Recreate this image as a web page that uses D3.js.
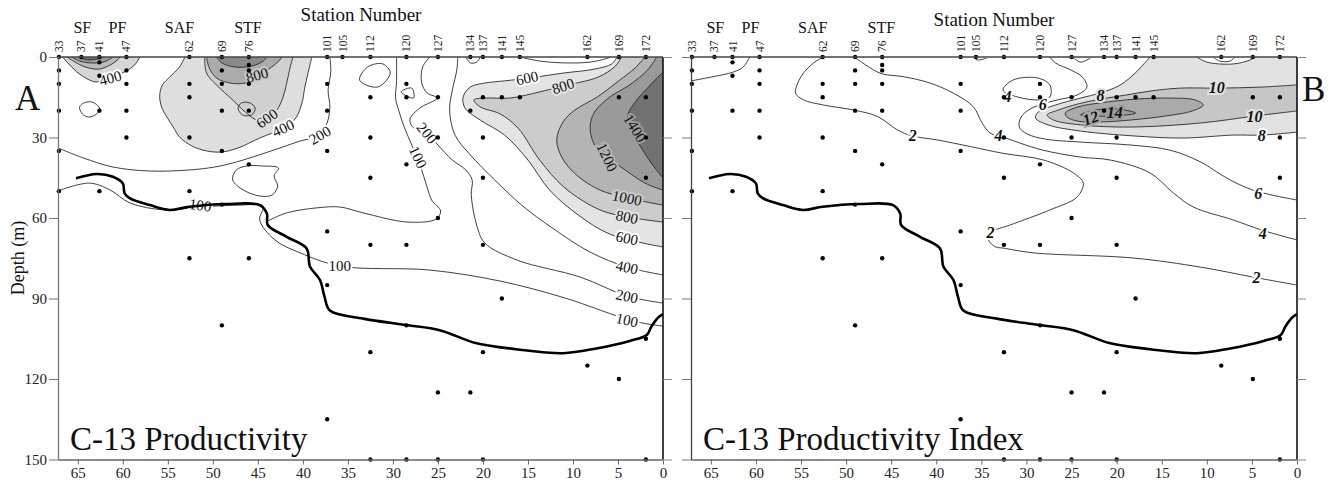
<!DOCTYPE html>
<html>
<head>
<meta charset="utf-8">
<script src="https://cdn.jsdelivr.net/npm/d3@7"></script>
<style>
  body { margin: 0; background: #fff; }
  text { font-family: "Liberation Serif", "Times New Roman", serif; }
</style>
</head>
<body>
<svg id="chart" width="1331" height="489"></svg>
<script>
// ---- data (station axis value, depth in m) ----
const stations = [33, 37, 41, 47, 62, 69, 76, 101, 105, 112, 120, 127, 134, 137, 141, 145, 162, 169, 172];
const stationPos = [67.1, 64.6, 62.6, 59.6, 52.6, 49.0, 46.0, 37.3, 35.6, 32.5, 28.5, 25.0, 21.4, 20.0, 17.9, 15.9, 8.4, 4.9, 1.9];
const fronts = ['SF', 'PF', 'SAF', 'STF'];
const frontPos = [64.5, 60.6, 53.7, 46.1];
const xTicks = [65, 60, 55, 50, 45, 40, 35, 30, 25, 20, 15, 10, 5, 0];
const depthTicks = [0, 30, 60, 90, 120, 150];

// sample depths per station (same for both panels)
const sampleDepths = [
  [0, 5, 10, 20, 35, 50],
  [0],
  [0, 2, 7, 20, 50],
  [0, 5, 10, 20, 30],
  [0, 10, 15, 30, 50, 75],
  [0, 5, 10, 20, 35, 55, 100],
  [0, 3, 5, 10, 20, 40, 75],
  [0, 10, 20, 35, 65, 85, 135],
  [0],
  [0, 15, 30, 45, 70, 110, 150],
  [0, 10, 15, 40, 70, 100, 150],
  [0, 15, 30, 60, 125, 150],
  [0, 20, 125],
  [0, 15, 30, 45, 70, 110, 150],
  [0, 15, 90],
  [0, 15],
  [0, 115],
  [0, 15, 120],
  [0, 15, 30, 45, 105, 150]
];

// thick line (same in both panels)
const thickLine = [[65.2, 45.2], [62.9, 43.6], [61.1, 44.6], [60.0, 47.1], [59.8, 50.8], [59.2, 52.7], [57.0, 55.2],
  [54.8, 57.0], [52.6, 55.8], [48.5, 54.8], [44.8, 55.2], [44.0, 58.3], [43.9, 62.6], [41.8, 67.0], [39.6, 71.3],
  [39.2, 78.2], [38.1, 83.1], [37.6, 89.3], [37.0, 94.5], [33.3, 97.5], [28.5, 99.9], [24.8, 101.8], [20.7, 106.7],
  [16.3, 108.9], [11.1, 110.4], [7.4, 108.6], [3.7, 105.8], [1.8, 103.6], [1.3, 100.5], [0.5, 97.0], [0, 95.8]];

// ---- panel A contours ----
const aSF400 = [[66.7, 0], [66.1, 2.2], [65.1, 5.6], [63.7, 8.6], [62.9, 9.3], [61.4, 7.8], [60.3, 6.3], [59.6, 5.2], [58.7, 3.0], [58.1, 0]];
const aSF600 = [[66.2, 0], [65.3, 1.9], [64.2, 3.7], [62.6, 4.5], [61.2, 2.6], [60.6, 1.1], [60.3, 0]];
const aSF800 = [[65.7, 0], [64.8, 1.5], [63.7, 2.2], [62.2, 1.9], [61.4, 0.7], [61.1, 0]];
const aSF1000 = [[65.0, 0], [63.9, 1.1], [62.8, 0.7], [62.1, 0]];
const aLoop41 = [[64.8, 18.6], [64.3, 17.1], [63.4, 16.8], [62.6, 19.0], [62.8, 20.9], [63.8, 22.4], [64.5, 21.2]];
const aSTF400 = [[53.1, 0], [53.7, 3.7], [54.8, 7.5], [55.6, 10.4], [55.9, 14.2], [55.7, 18.6], [55.1, 22.4], [54.4, 26.1],
  [53.7, 29.8], [52.3, 33.2], [50.7, 35.0], [49.0, 35.4], [47.2, 33.9], [44.8, 30.2], [42.2, 26.5], [40.8, 22.8],
  [40.1, 17.1], [39.8, 11.6], [39.4, 5.6], [39.0, 0]];
const aSTF600 = [[50.9, 0], [50.7, 6.0], [49.6, 10.4], [47.8, 16.0], [46.4, 20.5], [45.1, 23.5], [44.0, 22.8], [42.9, 19.8],
  [42.2, 14.9], [41.8, 9.7], [41.4, 3.7], [41.1, 0]];
const aSTF800 = [[50.7, 0], [50.4, 4.1], [49.6, 7.8], [48.1, 9.7], [46.4, 9.7], [45.1, 7.5], [43.9, 4.8], [42.8, 1.9], [42.3, 0]];
const aSTF1000 = [[49.6, 0], [49.0, 2.2], [47.6, 3.7], [45.7, 3.4], [44.4, 1.5], [44.0, 0]];
const aLoop76 = [[47.2, 19.0], [46.8, 17.1], [45.9, 17.1], [45.3, 19.0], [45.7, 21.6], [46.7, 21.6]];
const a200L = [[67.2, 33.9], [64.4, 37.6], [61.1, 41.0], [57.0, 42.5], [52.6, 42.1], [49.8, 41.0], [47.8, 39.5], [45.6, 37.3],
  [42.2, 33.5], [40.3, 31.3], [38.3, 29.4], [37.4, 25.3], [37.0, 19.0], [37.2, 12.3], [36.9, 5.6], [37.0, 0]];
const a200Loop = [[47.4, 42.1], [47.8, 45.8], [46.6, 49.6], [44.8, 51.8], [43.4, 51.4], [42.8, 48.1], [43.2, 44.3], [42.7, 41.4], [44.6, 40.6], [46.2, 40.6]];
const a100low = [[67.2, 49.9], [63.7, 47.0], [61.4, 49.6], [59.2, 54.4], [55.3, 57.0], [51.4, 55.9], [47.0, 55.2], [44.4, 55.5],
  [44.8, 60.7], [43.1, 68.2], [40.3, 73.0], [35.9, 77.9], [25.9, 79.4], [18.1, 83.5], [10.9, 89.8], [3.3, 98.4], [0, 100.3]];
const a100mid = [[43.9, 61.1], [41.8, 58.1], [38.4, 56.2], [35.9, 55.9], [33.3, 58.1], [28.4, 61.5], [25.2, 60.4], [24.7, 57.4],
  [25.7, 53.3], [26.2, 48.5], [27.0, 40.2], [27.9, 32.8], [28.7, 26.5], [29.3, 20.5], [29.7, 15.3], [29.6, 9.3], [29.6, 0]];
const aPent = [[33.7, 8.6], [32.8, 3.7], [31.1, 2.6], [30.3, 6.0], [31.7, 11.2]];
const aTri = [[29.1, 13.0], [27.9, 11.6], [27.7, 15.3]];
const aBump134 = [[21.9, 0], [21.4, 2.2], [20.7, 1.9], [20.3, 0]];
const a200R = [[25.9, 0], [26.7, 3.7], [26.8, 9.7], [26.2, 13.4], [25.1, 15.3], [27.0, 19.0], [28.1, 23.1], [27.8, 26.1],
  [26.2, 28.3], [25.0, 32.8], [23.4, 38.4], [21.9, 42.1], [21.2, 45.8], [21.3, 51.4], [20.7, 62.6], [19.8, 69.3],
  [16.2, 75.7], [9.2, 82.0], [4.0, 89.1], [0, 91.7]];
const a400 = [[22.8, 0], [22.9, 4.8], [23.4, 12.3], [23.7, 19.8], [23.1, 29.1], [21.4, 36.5], [18.7, 45.8], [15.7, 55.2],
  [12.3, 63.7], [8.1, 72.7], [4.0, 78.3], [0, 81.2]];
const aTop = [[15.9, 0], [13.7, 1.5], [11.1, 2.2], [8.1, 1.9], [6.4, 0.7], [5.8, 0]];
const a600 = [[5.1, 0], [5.7, 2.6], [7.6, 4.5], [11.1, 6.0], [14.8, 7.8], [17.6, 8.9], [19.8, 9.7], [21.4, 11.2], [22.2, 14.9],
  [22.0, 19.0], [20.3, 23.5], [17.6, 29.1], [15.0, 38.4], [12.6, 49.6], [9.4, 58.9], [5.9, 66.0], [0, 70.8]];
const a800 = [[4.6, 0], [5.3, 3.4], [7.2, 7.5], [11.1, 10.8], [13.7, 13.0], [17.0, 15.3], [19.8, 15.3], [21.0, 16.0], [20.3, 18.6],
  [18.1, 21.2], [16.1, 26.5], [13.7, 38.4], [10.9, 48.8], [7.0, 57.0], [4.0, 59.6], [0, 61.5]];
const a1000 = [[2.0, 0], [3.1, 4.1], [4.8, 8.6], [7.3, 14.9], [9.8, 19.8], [11.1, 24.2], [11.8, 30.9], [11.2, 37.6], [9.6, 44.0],
  [7.0, 49.6], [4.0, 52.5], [0, 55.2]];
const a1200 = [[0.7, 0], [1.7, 4.8], [3.7, 10.4], [5.9, 14.9], [7.6, 20.5], [8.1, 26.1], [7.6, 32.8], [6.2, 37.3], [4.2, 42.1],
  [2.0, 47.0], [0, 49.6]];
const a1400 = [[0, 5.6], [1.4, 10.4], [2.9, 16.0], [3.9, 21.6], [3.7, 26.5], [2.6, 32.8], [1.4, 39.1], [0, 45.1]];

// ---- panel B contours ----
const bTop2 = [[60.7, 0], [61.4, 3.7], [62.5, 5.6], [65.0, 7.5], [67.2, 8.9]];
const b2 = [[52.5, 0], [53.6, 2.2], [55.0, 7.3], [55.6, 13.5], [54.7, 16.0], [52.5, 17.9], [49.1, 19.8], [46.5, 22.2], [44.3, 27.2],
  [42.7, 29.4], [39.9, 30.9], [36.2, 33.4], [32.6, 35.9], [28.1, 38.4], [24.8, 43.2], [23.7, 47.0], [24.4, 52.2], [27.4, 57.0],
  [31.8, 62.6], [33.8, 65.2], [34.2, 68.2], [33.4, 70.8], [32.6, 71.2], [29.2, 73.0], [18.2, 74.9], [10.7, 78.3], [4.9, 82.0], [0, 85.0]];
const b4 = [[49.1, 0], [47.3, 4.1], [46.0, 6.3], [43.7, 7.3], [40.7, 9.7], [38.1, 13.5], [35.9, 18.5], [34.9, 24.7], [34.0, 28.4],
  [32.6, 29.8], [30.7, 32.1], [28.2, 34.7], [24.0, 37.3], [20.7, 38.4], [16.3, 43.2], [13.7, 50.7], [11.5, 55.9], [7.1, 60.7], [3.8, 64.6], [0, 68.2]];
const b4loop = [[32.6, 12.3], [31.5, 8.6], [28.8, 7.8], [27.4, 10.4], [27.4, 14.9], [28.5, 16.0], [31.0, 14.9]];
const b6 = [[27.4, 0], [26.8, 2.2], [25.1, 4.8], [23.8, 7.5], [23.3, 11.2], [24.4, 14.2], [26.6, 16.0], [28.2, 17.5], [29.6, 19.4],
  [30.6, 22.4], [30.8, 26.1], [29.9, 28.7], [27.9, 30.6], [24.0, 31.7], [18.5, 32.8], [14.1, 34.7], [10.7, 39.1], [7.8, 45.1],
  [4.9, 49.6], [0, 53.3]];
const b8 = [[16.3, 0], [17.2, 3.4], [18.3, 7.1], [19.8, 10.8], [21.8, 13.4], [24.0, 15.3], [26.8, 17.9], [28.7, 20.5], [29.0, 22.7],
  [27.6, 25.3], [24.0, 27.6], [18.2, 29.4], [12.6, 30.2], [7.1, 29.1], [3.9, 29.1], [0, 28.0]];
const b10 = [[0, 10.4], [3.9, 11.2], [8.9, 11.6], [13.0, 11.6], [16.3, 12.7], [19.0, 14.2], [21.8, 15.7], [24.3, 17.5], [26.5, 19.8],
  [27.7, 21.6], [27.0, 23.5], [24.0, 25.3], [18.5, 26.1], [10.7, 24.6], [4.7, 22.0], [0, 20.1]];
const b12 = [[25.7, 20.9], [24.3, 18.6], [21.8, 17.1], [17.9, 15.7], [14.1, 15.3], [11.3, 16.0], [10.4, 17.9], [11.6, 20.1],
  [14.6, 22.0], [18.5, 23.5], [21.8, 24.2], [24.3, 23.9], [25.5, 22.4]];
const b14 = [[24.0, 21.6], [22.4, 19.8], [19.9, 19.4], [17.9, 20.9], [20.5, 22.0]];
const bHole = [[11.1, 0], [10.0, 1.9], [7.1, 2.6], [5.2, 1.1], [4.7, 0]];
const bHoleIn = [[9.3, 0], [8.6, 1.5], [7.4, 1.5], [6.9, 0]];
const bBump105 = [[35.8, 0], [35.5, 1.1], [34.4, 0.4]];
const bBump127 = [[24.9, 0], [24.0, 1.9], [22.9, 0.4]];

// labels [v, depth, text, angle, halo]
const labelsA = [[61.4, 7.8, '400', -15, '#fff'], [45.1, 6.7, '800', -15, '#c8c8c8'], [44.0, 22.8, '600', -35, '#dedede'],
  [42.2, 26.5, '400', -25, '#fff'], [38.1, 29.1, '200', -30, '#fff'], [26.2, 28.3, '200', 50, '#fff'],
  [27.2, 37.3, '100', 65, '#fff'], [51.4, 55.2, '100', 8, '#fff'], [35.9, 77.9, '100', 0, '#fff'],
  [15.1, 7.8, '600', -12, '#fff'], [11.1, 10.8, '800', -18, '#e4e4e4'], [3.1, 26.5, '1400', 58, '#9c9c9c'],
  [6.2, 37.3, '1200', 65, '#b4b4b4'], [4.0, 52.5, '1000', 12, '#cccccc'], [4.0, 59.6, '800', 12, '#e4e4e4'],
  [4.0, 67.5, '600', 12, '#fff'], [4.0, 78.3, '400', 12, '#fff'], [4.0, 89.1, '200', 12, '#fff'], [4.0, 98.0, '100', 12, '#fff']];
const labelsB = [[42.6, 29.4, '2', 0, '#fff'], [33.1, 29.1, '4', 0, '#fff'], [32.1, 14.5, '4', 0, '#fff'], [28.2, 17.5, '6', 0, '#fff'],
  [21.8, 14.2, '8', 0, '#e2e2e2'], [22.9, 22.7, '12', -20, '#aaaaaa'], [20.2, 20.5, '14', 0, '#9c9c9c'], [8.9, 11.2, '10', 0, '#e2e2e2'],
  [4.7, 22.0, '10', 0, '#e2e2e2'], [3.9, 29.1, '8', 0, '#fff'], [4.3, 50.7, '6', 0, '#fff'], [3.8, 65.6, '4', 0, '#fff'],
  [4.5, 82.0, '2', 0, '#fff'], [34.0, 65.2, '2', 0, '#fff']];

// ---- build ----
const svg = d3.select('#chart');
const y = d3.scaleLinear().domain([0, 150]).range([57, 459.5]);

const panels = [
  {
    x0: 58, x1: 663, letter: 'A', letterX: 15, letterY: 110, title: 'C-13 Productivity', snY: 21, snX: 361, yLabels: true,
    fills: [
      [aSF400, [], '#d6d6d6'], [aSF600, [], '#bababa'], [aSF800, [], '#9c9c9c'], [aSF1000, [], '#707070'],
      [aSTF400, [], '#dedede'], [aSTF600, [], '#d0d0d0'], [aSTF800, [], '#ababab'], [aSTF1000, [], '#8a8a8a'],
      [a600, [[0, 0]], '#e4e4e4'], [a800, [[0, 0]], '#cccccc'], [a1000, [[0, 0]], '#b4b4b4'], [a1200, [[0, 0]], '#9a9a9a'],
      [a1400, [], '#727272'], [aTop, [], '#ffffff']
    ],
    lines: [aSF400, aSF600, aSF800, aSF1000, aSTF400, aSTF600, aSTF800, aSTF1000, a200L, a100low, a100mid, a200R, a400,
      aTop, aBump134, a600, a800, a1000, a1200, a1400],
    loops: [aLoop41, aLoop76, a200Loop, aPent, aTri],
    labels: labelsA
  },
  {
    x0: 691, x1: 1297, letter: 'B', letterX: 1302, letterY: 101, title: 'C-13 Productivity Index', snY: 26, snX: 994, yLabels: false,
    fills: [[b8, [[0, 0]], '#e2e2e2'], [bHole, [], '#ffffff'], [b10, [], '#c6c6c6']],
    fillLoops: [[b12, '#aaaaaa'], [b14, '#9c9c9c']],
    lines: [bTop2, b2, b4, b6, b8, b10, bHole, bHoleIn, bBump105, bBump127],
    loops: [b4loop, b12, b14],
    labels: labelsB,
    bold: true
  }
];

panels.forEach((p) => {
  const x = d3.scaleLinear().domain([67.2, 0]).range([p.x0, p.x1]);
  const g = svg.append('g');
  const open = d3.line().x((d) => x(d[0])).y((d) => y(d[1])).curve(d3.curveCatmullRom.alpha(0.5));
  const closed = d3.line().x((d) => x(d[0])).y((d) => y(d[1])).curve(d3.curveCatmullRomClosed.alpha(0.5));

  // filled bands
  p.fills.forEach(([pts, corners, col]) => {
    let path = open(pts);
    corners.forEach((c) => { path += `L${x(c[0])},${y(c[1])}`; });
    g.append('path').attr('d', path + 'Z').attr('fill', col).attr('stroke', 'none');
  });
  (p.fillLoops || []).forEach(([pts, col]) => {
    g.append('path').attr('d', closed(pts)).attr('fill', col);
  });

  // contour lines
  g.append('g').selectAll('path').data(p.lines).join('path')
    .attr('d', open).attr('fill', 'none').attr('stroke', '#2a2a2a').attr('stroke-width', 0.9);
  g.append('g').selectAll('path').data(p.loops).join('path')
    .attr('d', closed).attr('fill', 'none').attr('stroke', '#2a2a2a').attr('stroke-width', 0.9);

  // contour labels (halo breaks the line under the text)
  g.append('g').selectAll('text').data(p.labels).join('text')
    .attr('transform', (d) => `translate(${x(d[0])},${y(d[1])}) rotate(${d[3]})`)
    .attr('text-anchor', 'middle').attr('dy', '0.35em')
    .attr('font-size', p.bold ? 16 : 15).attr('font-weight', p.bold ? 'bold' : 'normal')
    .attr('font-style', p.bold ? 'italic' : 'normal')
    .attr('fill', '#111').attr('stroke', (d) => d[4]).attr('stroke-width', 4).attr('paint-order', 'stroke')
    .text((d) => d[2]);

  // thick line
  g.append('path').datum(thickLine).attr('d', open).attr('fill', 'none')
    .attr('stroke', '#000').attr('stroke-width', 2.6);

  // sample dots
  const dots = [];
  stationPos.forEach((sx, i) => sampleDepths[i].forEach((dd) => dots.push([sx, dd])));
  g.append('g').selectAll('circle').data(dots).join('circle')
    .attr('cx', (d) => x(d[0])).attr('cy', (d) => y(d[1])).attr('r', 2.2).attr('fill', '#000');

  // frame: top and right lines
  g.append('line').attr('x1', p.x0).attr('x2', p.x1).attr('y1', y(0)).attr('y2', y(0)).attr('stroke', '#444').attr('stroke-width', 1.3);
  g.append('line').attr('x1', p.x1).attr('x2', p.x1).attr('y1', y(0)).attr('y2', y(150)).attr('stroke', '#111').attr('stroke-width', 1.6);

  // bottom axis
  const xAxis = g.append('g').attr('transform', `translate(0,${y(150)})`)
    .call(d3.axisBottom(x).tickValues(xTicks).tickSize(5).tickPadding(3).tickSizeOuter(0));
  xAxis.select('.domain').attr('stroke', '#666').attr('stroke-width', 1.3);
  xAxis.selectAll('.tick line').attr('stroke', '#666');
  xAxis.selectAll('text').attr('font-size', 15).attr('font-family', '"Liberation Serif", serif').attr('fill', '#222');

  // left axis
  const yAxis = g.append('g').attr('transform', `translate(${p.x0},0)`)
    .call(d3.axisLeft(y).tickValues(depthTicks).tickSize(9).tickPadding(2).tickSizeOuter(0)
      .tickFormat(p.yLabels ? d3.format('d') : () => ''));
  yAxis.select('.domain').attr('stroke', p.yLabels ? '#777' : '#444').attr('stroke-width', 1.3);
  yAxis.selectAll('.tick line').attr('stroke', '#777');
  yAxis.selectAll('text').attr('font-size', 15).attr('font-family', '"Liberation Serif", serif').attr('fill', '#222');

  // right ticks
  const rAxis = g.append('g').attr('transform', `translate(${p.x1},0)`)
    .call(d3.axisRight(y).tickValues(depthTicks).tickSize(9).tickFormat(() => '').tickSizeOuter(0));
  rAxis.select('.domain').remove();
  rAxis.selectAll('.tick line').attr('stroke', '#888');

  // station numbers, fronts, titles
  g.append('g').selectAll('text').data(stations).join('text')
    .attr('transform', (d, i) => `translate(${x(stationPos[i])},${y(0) - 5}) rotate(-90)`)
    .attr('dy', '0.35em').attr('font-size', 11.5).attr('fill', '#222')
    .text((d) => d);
  g.append('g').selectAll('text').data(fronts).join('text')
    .attr('x', (d, i) => x(frontPos[i])).attr('y', 33).attr('text-anchor', 'middle')
    .attr('font-size', 16).attr('fill', '#111').text((d) => d);
  g.append('text').attr('x', p.snX).attr('y', p.snY).attr('text-anchor', 'middle')
    .attr('font-size', 19).attr('fill', '#111').text('Station Number');

  g.append('text').attr('x', p.letterX).attr('y', p.letterY).attr('font-size', 35).attr('fill', '#111').text(p.letter);
  g.append('text').attr('x', p.x0 + 12).attr('y', 450).attr('font-size', 33).attr('fill', '#111').text(p.title);
});

svg.append('text').attr('transform', 'translate(24,258) rotate(-90)').attr('text-anchor', 'middle')
  .attr('font-size', 18).attr('fill', '#111').text('Depth (m)');
</script>
</body>
</html>
